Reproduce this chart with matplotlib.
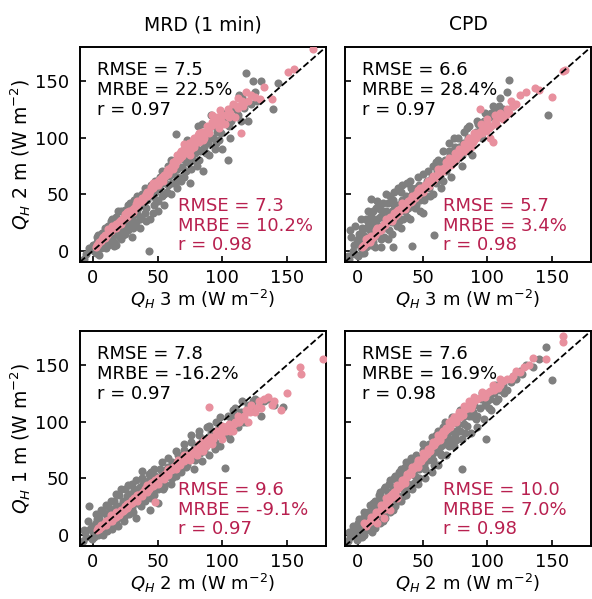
import numpy as np
import matplotlib
matplotlib.use("Agg")
import matplotlib.pyplot as plt

plt.rcParams['font.family'] = ['DejaVu Sans']
plt.rcParams['mathtext.fontset'] = 'dejavusans'
plt.rcParams['font.size'] = 13

col_titles = ["MRD (1 min)", "CPD"]
row_xlabels = [r"$Q_H$ 3 m (W m$^{-2}$)", r"$Q_H$ 2 m (W m$^{-2}$)"]
row_ylabels = [r"$Q_H$ 2 m (W m$^{-2}$)", r"$Q_H$ 1 m (W m$^{-2}$)"]
ticks = [0, 50, 100, 150]

# top-left: MRD, 3 m (x) vs 2 m (y)
mrd_a_grey = np.array([
    (-7, -7), (-5, -3), (-3, 2), (0, 5), (2, -2), (3, 8), (5, 3), (6, 12), (8, 6), (10, 15), (10, 2),
    (12, 22), (14, 9), (15, 28), (16, 14), (18, 5), (18, 30), (20, 18), (22, 10), (22, 35), (24, 25),
    (25, 15), (27, 40), (28, 20), (30, 30), (30, 12), (32, 45), (33, 25), (35, 38), (36, 20), (38, 50),
    (40, 33), (43, 0), (42, 45), (44, 28), (45, 58), (47, 40), (48, 52), (50, 35), (52, 65), (53, 48),
    (55, 40), (56, 60), (58, 75), (60, 50), (62, 68), (64, 103), (65, 55), (66, 80), (68, 62), (70, 85),
    (72, 70), (74, 90), (75, 60), (78, 95), (80, 75), (81, 110), (83, 88), (85, 70), (88, 100), (90, 85),
    (92, 110), (95, 95), (98, 118), (100, 90), (104, 80), (105, 110), (108, 128), (112, 120), (115, 135),
    (118, 157), (120, 115), (125, 140), (130, 150), (139, 125), (143, 148),
    (1, 0), (3, 12), (4, 4), (6, 2), (7, 16), (9, 9), (11, 18), (12, 5), (13, 14), (15, 20), (16, 8),
    (17, 24), (19, 15), (20, 27), (21, 12), (23, 20), (24, 33), (26, 22), (27, 30), (29, 26), (31, 38),
    (32, 22), (34, 32), (36, 44), (37, 30), (39, 42), (41, 38), (43, 52), (46, 48), (49, 45), (51, 56),
    (54, 62), (57, 52), (59, 66), (61, 60), (63, 74), (66, 65), (69, 74), (71, 80), (73, 78), (76, 72),
    (79, 86), (82, 80), (86, 92), (89, 95), (93, 100), (96, 105), (99, 104), (102, 118), (106, 100),
    (110, 125), (114, 115), (122, 130), (127, 132),
    (2, 6), (4, 14), (5, -4), (7, 3), (9, 20), (11, 7), (14, 26), (16, 4), (19, 35), (21, 22), (23, 14),
    (25, 36), (27, 18), (29, 42), (31, 20), (34, 48), (36, 28), (38, 40), (40, 55), (41, 26), (44, 50),
    (46, 33), (48, 62), (50, 44), (53, 70), (55, 50), (58, 58), (60, 80), (63, 60), (65, 72), (68, 85),
    (70, 65), (73, 98), (77, 80), (80, 90), (84, 112), (87, 86), (91, 120), (94, 90), (97, 98),
    (103, 122), (107, 115), (113, 138), (117, 126), (124, 150)])
mrd_a_pink = np.array([
    (2, 3), (4, 6), (5, 8), (7, 10), (8, 12), (10, 13), (12, 16), (13, 18), (15, 19), (17, 22), (18, 20),
    (20, 25), (22, 27), (24, 28), (25, 32), (27, 31), (28, 35), (30, 36), (32, 38), (34, 40), (35, 43),
    (37, 44), (38, 47), (40, 48), (42, 52), (44, 53), (45, 56), (47, 57), (48, 60), (50, 62), (52, 63),
    (55, 67), (57, 70), (58, 72), (60, 74), (62, 78), (64, 80), (65, 85), (67, 82), (68, 88), (70, 90),
    (72, 88), (74, 95), (75, 85), (77, 98), (78, 92), (80, 100), (82, 96), (84, 105), (85, 98), (88, 110),
    (90, 104), (92, 120), (95, 115), (97, 108), (100, 120), (102, 112), (104, 125), (108, 130), (110, 118),
    (112, 135), (114, 104), (116, 128), (118, 140), (120, 132), (129, 134), (138, 134), (132, 145),
    (151, 158), (155, 161), (170, 178),
    (3, 5), (6, 9), (9, 11), (11, 14), (14, 17), (16, 21), (19, 23), (21, 26), (23, 29), (26, 30),
    (29, 34), (31, 37), (33, 41), (36, 44), (39, 46), (41, 50), (43, 50), (46, 55), (49, 58), (51, 60),
    (53, 65), (56, 66), (59, 70), (61, 75), (63, 76), (66, 80), (69, 84), (71, 86), (73, 92), (76, 90),
    (79, 95), (81, 102), (83, 98), (86, 104), (89, 106), (91, 110), (94, 112), (96, 118), (99, 115),
    (103, 120), (106, 122), (111, 128), (115, 132), (122, 138), (125, 136),
    (9, 14), (12, 19), (15, 22), (18, 24), (22, 24), (26, 34), (31, 34), (34, 44), (38, 44), (42, 48),
    (46, 60), (50, 58), (54, 62), (58, 68), (62, 72), (67, 86), (70, 94), (74, 88), (78, 100), (82, 104),
    (86, 100), (92, 114), (98, 124), (105, 118), (112, 126)])

# top-right: CPD, 3 m (x) vs 2 m (y)
cpd_a_grey = np.array([
    (-7, -7), (-8, -5), (-6, 18), (-3, 5), (-2, -3), (0, 10), (2, 2), (3, 20), (5, -2), (5, 12), (6, 28),
    (8, 5), (9, 18), (10, 46), (10, 32), (12, 8), (13, 25), (14, 38), (15, 14), (17, 30), (18, 3), (19, 42),
    (20, 20), (22, 35), (23, 10), (25, 48), (26, 25), (27, 3), (28, 40), (30, 30), (31, 55), (33, 20),
    (34, 45), (36, 35), (38, 60), (40, 28), (42, 4), (42, 50), (44, 38), (46, 65), (48, 45), (50, 33),
    (52, 58), (54, 70), (56, 48), (58, 75), (59, 14), (60, 60), (62, 80), (64, 55), (66, 88), (68, 70),
    (70, 95), (72, 65), (74, 100), (76, 80), (78, 92), (80, 75), (82, 105), (84, 90), (86, 110), (88, 85),
    (90, 100), (92, 115), (95, 105), (98, 122), (100, 110), (104, 128), (108, 118), (110, 135), (117, 151),
    (120, 128), (147, 120),
    (-4, 0), (-1, 8), (1, 15), (3, -2), (4, 6), (6, 20), (7, 12), (8, 25), (10, 5), (11, 22), (12, 35),
    (13, 15), (15, 28), (16, 40), (17, 18), (18, 10), (20, 32), (21, 25), (23, 42), (24, 18), (26, 35),
    (27, 45), (29, 30), (30, 22), (32, 40), (33, 52), (35, 28), (37, 48), (39, 38), (41, 55), (43, 45),
    (45, 40), (47, 58), (49, 52), (51, 45), (53, 62), (55, 55), (57, 65), (61, 70), (63, 65), (65, 75),
    (67, 80), (69, 78), (71, 85), (73, 88), (75, 92), (79, 85), (81, 95), (85, 100), (87, 95), (91, 105),
    (94, 110), (96, 100), (102, 118), (106, 125), (112, 125), (115, 140),
    (-5, 12), (-2, 22), (0, -5), (2, 28), (4, 14), (6, 3), (8, 35), (9, 12), (11, 28), (13, 3), (15, 44),
    (16, 22), (18, 36), (20, 12), (22, 50), (24, 30), (26, 15), (28, 52), (30, 40), (32, 26), (34, 58),
    (36, 44), (38, 30), (40, 62), (42, 40), (45, 55), (48, 35), (50, 68), (52, 48), (55, 62), (58, 50),
    (60, 78), (63, 70), (66, 62), (70, 88), (73, 78), (77, 100), (80, 85), (84, 108), (88, 95), (93, 112),
    (97, 115), (103, 122), (109, 128)])
cpd_a_pink = np.array([
    (3, 3), (5, 5), (7, 10), (9, 8), (10, 13), (12, 12), (14, 16), (15, 20), (17, 18), (19, 22), (20, 24),
    (22, 25), (24, 27), (25, 30), (27, 29), (28, 33), (30, 35), (32, 34), (33, 38), (35, 40), (36, 37),
    (38, 42), (40, 45), (42, 44), (43, 48), (45, 50), (47, 52), (48, 55), (50, 54), (52, 58), (54, 60),
    (55, 57), (57, 63), (58, 66), (60, 65), (62, 68), (64, 72), (65, 70), (67, 74), (68, 78), (70, 80),
    (72, 76), (74, 82), (75, 86), (77, 84), (78, 90), (80, 88), (82, 94), (84, 92), (86, 96), (88, 100),
    (90, 98), (92, 104), (94, 125), (95, 106), (98, 110), (100, 112), (102, 100), (104, 96), (106, 114),
    (108, 118), (110, 122), (112, 116), (115, 125), (118, 132), (120, 128), (125, 138), (130, 140),
    (137, 144), (140, 142), (150, 136), (158, 159), (160, 160),
    (4, 4), (6, 7), (8, 11), (11, 11), (13, 14), (16, 17), (18, 21), (21, 23), (23, 26), (26, 28),
    (29, 31), (31, 36), (34, 37), (37, 41), (39, 44), (41, 43), (44, 47), (46, 49), (49, 52), (51, 56),
    (53, 57), (56, 61), (59, 63), (61, 67), (63, 69), (66, 72), (69, 75), (71, 78), (73, 80), (76, 82),
    (79, 86), (81, 90), (83, 88), (85, 98), (87, 92), (89, 96), (91, 100), (93, 102), (96, 104),
    (99, 106), (101, 108), (103, 110), (107, 112), (111, 118), (114, 120), (117, 122), (122, 130),
    (6, 10), (10, 10), (14, 18), (18, 18), (22, 28), (26, 26), (30, 32), (34, 42), (38, 40), (42, 48),
    (46, 54), (50, 52), (54, 62), (58, 62), (62, 72), (66, 70), (70, 82), (74, 78), (78, 86), (82, 90),
    (86, 100), (90, 104), (95, 112), (100, 116), (106, 120)])

# bottom-left: MRD, 2 m (x) vs 1 m (y)
mrd_b_grey = np.array([
    (-8, -6), (-5, -2), (-3, 25), (-2, 5), (0, 2), (2, 10), (4, 0), (5, 15), (7, 6), (8, 20), (10, 10),
    (11, 3), (12, 25), (14, 14), (15, 5), (16, 30), (18, 18), (19, 8), (20, 35), (22, 22), (24, 12),
    (25, 40), (26, 28), (28, 18), (30, 45), (31, 32), (33, 15), (35, 38), (37, 25), (38, 50), (40, 30),
    (42, 42), (44, 22), (45, 55), (47, 35), (49, 48), (50, 28), (52, 58), (54, 40), (56, 50), (58, 60),
    (60, 45), (62, 62), (64, 52), (66, 70), (68, 55), (70, 75), (72, 60), (74, 68), (76, 82), (78, 58),
    (80, 72), (82, 88), (84, 65), (86, 80), (88, 95), (90, 70), (92, 85), (95, 100), (98, 78), (100, 90),
    (102, 59), (104, 105), (106, 85), (108, 110), (112, 95), (115, 118), (118, 100), (122, 112),
    (125, 120), (130, 105), (135, 120), (140, 115), (147, 113),
    (-6, 2), (-1, 8), (1, -2), (3, 14), (6, 10), (9, 4), (10, 18), (12, 8), (13, 20), (15, 16), (17, 24),
    (18, 12), (20, 25), (21, 16), (23, 30), (24, 20), (26, 34), (27, 22), (29, 36), (30, 24), (32, 40),
    (34, 28), (36, 42), (38, 32), (39, 45), (41, 36), (43, 48), (46, 40), (48, 52), (51, 44), (53, 54),
    (55, 46), (57, 58), (59, 52), (61, 64), (63, 55), (65, 62), (67, 66), (69, 60), (71, 70), (73, 65),
    (75, 72), (77, 68), (79, 78), (81, 75), (83, 72), (85, 85), (87, 78), (89, 82), (91, 90), (94, 82),
    (97, 95), (99, 88), (103, 95), (107, 100), (110, 105), (114, 108), (120, 115), (127, 112), (132, 118),
    (-7, 4), (-4, 12), (-1, -4), (2, 18), (4, 6), (6, 22), (8, 0), (10, 26), (12, 14), (14, 30), (16, 10),
    (18, 36), (20, 20), (22, 40), (24, 16), (27, 44), (29, 30), (31, 20), (33, 48), (36, 30), (38, 56),
    (40, 36), (43, 54), (45, 32), (47, 58), (50, 40), (53, 64), (55, 42), (58, 68), (61, 50), (64, 74),
    (67, 56), (70, 80), (73, 62), (76, 88), (79, 66), (82, 92), (86, 74), (90, 96), (94, 76), (98, 104),
    (104, 88), (110, 112), (116, 100), (124, 118)])
mrd_b_pink = np.array([
    (3, 4), (5, 5), (7, 8), (9, 10), (10, 9), (12, 13), (14, 14), (15, 12), (17, 16), (19, 18), (20, 17),
    (22, 22), (24, 22), (25, 25), (27, 25), (28, 28), (30, 28), (32, 32), (34, 30), (35, 35), (37, 35),
    (38, 37), (40, 40), (42, 38), (44, 42), (45, 46), (47, 44), (48, 29), (48, 48), (50, 45), (52, 50),
    (54, 52), (55, 49), (57, 55), (58, 53), (60, 57), (62, 60), (64, 58), (65, 63), (67, 62), (68, 66),
    (70, 65), (72, 68), (74, 70), (75, 66), (77, 72), (78, 75), (80, 70), (82, 78), (84, 80), (85, 74),
    (88, 82), (90, 113), (90, 85), (92, 80), (95, 88), (98, 92), (100, 85), (102, 95), (105, 98),
    (108, 92), (110, 100), (112, 105), (115, 102), (118, 110), (120, 100), (122, 115), (125, 108),
    (128, 118), (130, 112), (135, 122), (140, 118), (145, 110), (150, 125), (160, 148), (161, 142),
    (178, 155),
    (4, 6), (6, 7), (8, 9), (11, 11), (13, 12), (16, 15), (18, 16), (21, 20), (23, 21), (26, 24),
    (29, 27), (31, 30), (33, 31), (36, 34), (39, 38), (41, 41), (43, 40), (46, 43), (49, 47), (51, 48),
    (53, 51), (56, 54), (59, 56), (61, 58), (63, 61), (66, 62), (69, 65), (71, 67), (73, 70), (76, 70),
    (79, 73), (81, 76), (83, 78), (86, 80), (87, 78), (89, 84), (91, 86), (93, 85), (96, 90), (99, 88),
    (103, 92), (106, 96), (109, 98), (113, 100), (117, 105), (121, 108), (127, 112), (132, 120),
    (138, 115),
    (6, 9), (10, 12), (14, 17), (18, 20), (22, 20), (26, 27), (30, 31), (34, 35), (38, 34), (42, 44),
    (46, 47), (50, 50), (54, 50), (58, 58), (62, 58), (66, 66), (70, 70), (74, 68), (78, 72), (82, 80),
    (86, 84), (90, 82), (95, 92), (100, 96), (106, 92), (112, 100)])

# bottom-right: CPD, 2 m (x) vs 1 m (y)
cpd_b_grey = np.array([
    (-8, -6), (-5, 0), (-3, 5), (0, -3), (0, 10), (2, 3), (4, 15), (5, 0), (6, 8), (8, 20), (9, 4),
    (10, 12), (12, 28), (13, 6), (14, 18), (16, 35), (17, 10), (18, 25), (20, 40), (21, 15), (22, 30),
    (24, 45), (25, 20), (26, 36), (28, 50), (29, 25), (30, 42), (32, 55), (33, 30), (34, 48), (36, 60),
    (37, 35), (38, 52), (40, 65), (42, 40), (43, 58), (45, 70), (46, 45), (48, 62), (50, 75), (52, 50),
    (53, 68), (55, 80), (57, 55), (58, 72), (60, 88), (62, 62), (64, 78), (66, 95), (68, 70), (70, 85),
    (72, 100), (74, 78), (76, 92), (78, 105), (80, 58), (80, 85), (82, 98), (85, 110), (87, 90),
    (88, 105), (90, 115), (92, 95), (95, 120), (97, 102), (99, 85), (100, 118), (103, 110), (105, 125),
    (108, 120), (112, 132), (115, 128), (120, 140), (125, 145), (145, 166), (150, 137),
    (-6, -2), (-2, 2), (1, 6), (3, 10), (5, 14), (7, 5), (8, 14), (10, 18), (11, 8), (12, 20), (14, 24),
    (15, 12), (16, 26), (18, 30), (19, 18), (20, 32), (22, 22), (23, 38), (24, 34), (26, 28), (27, 42),
    (28, 36), (30, 48), (31, 34), (32, 44), (34, 52), (35, 40), (36, 50), (38, 58), (39, 45), (41, 56),
    (42, 62), (44, 52), (46, 64), (47, 58), (49, 68), (51, 62), (52, 72), (54, 66), (56, 76), (58, 66),
    (60, 75), (61, 82), (63, 72), (65, 85), (67, 80), (69, 88), (71, 82), (73, 92), (75, 88), (77, 98),
    (79, 92), (81, 104), (84, 96), (86, 105), (89, 108), (91, 102), (94, 112), (98, 115), (102, 120),
    (107, 118), (110, 128), (118, 135), (122, 138), (130, 150), (135, 148), (140, 155),
    (-7, 2), (-4, 8), (-1, -5), (1, 14), (3, -2), (5, 20), (7, 10), (9, 26), (11, 2), (13, 30), (15, 16),
    (17, 38), (19, 12), (21, 42), (23, 26), (25, 48), (27, 22), (29, 52), (31, 30), (33, 58), (35, 34),
    (37, 64), (39, 40), (41, 68), (43, 46), (45, 60), (47, 50), (50, 80), (52, 58), (55, 70), (57, 86),
    (59, 62), (62, 92), (64, 70), (67, 100), (70, 78), (73, 104), (76, 84), (79, 110), (83, 90),
    (87, 115), (92, 105), (96, 125), (101, 112), (106, 132), (113, 125), (127, 142)])
cpd_b_pink = np.array([
    (5, 10), (8, 10), (10, 12), (12, 15), (14, 18), (15, 10), (16, 20), (18, 22), (20, 15), (20, 26),
    (21, 23), (22, 28), (24, 30), (25, 22), (25, 34), (27, 35), (28, 38), (30, 32), (30, 40), (32, 42),
    (34, 45), (35, 48), (37, 50), (38, 52), (40, 55), (42, 57), (44, 60), (45, 62), (47, 64), (48, 66),
    (50, 68), (52, 70), (54, 73), (55, 76), (57, 78), (58, 80), (60, 82), (62, 85), (64, 87), (65, 90),
    (67, 92), (68, 94), (70, 96), (72, 98), (74, 100), (75, 104), (78, 106), (80, 108), (82, 110),
    (85, 112), (88, 115), (90, 118), (95, 122), (100, 125), (105, 128), (110, 132), (115, 138),
    (120, 140), (125, 144), (135, 156), (145, 155), (158, 170), (158, 176),
    (6, 8), (9, 12), (11, 14), (13, 16), (15, 19), (17, 21), (19, 24), (21, 27), (23, 29), (26, 33),
    (29, 37), (31, 41), (33, 44), (36, 46), (39, 53), (41, 54), (43, 59), (46, 60), (49, 65), (51, 69),
    (53, 71), (56, 74), (59, 79), (61, 84), (63, 84), (66, 88), (69, 93), (71, 95), (73, 101), (76, 100),
    (79, 104), (81, 106), (84, 112), (87, 112), (92, 120), (98, 122), (102, 127), (108, 130), (112, 136),
    (118, 138), (122, 145), (128, 148), (132, 150),
    (10, 16), (14, 20), (18, 26), (22, 32), (26, 36), (30, 44), (34, 48), (38, 54), (42, 60), (46, 66),
    (50, 72), (54, 76), (58, 82), (62, 88), (66, 92), (70, 100), (74, 104), (78, 108), (82, 114),
    (86, 118), (90, 122), (96, 126), (104, 132), (110, 138)])

panels = [
    [(mrd_a_grey, mrd_a_pink, ("7.5", "22.5%", "0.97"), ("7.3", "10.2%", "0.98")),
     (cpd_a_grey, cpd_a_pink, ("6.6", "28.4%", "0.97"), ("5.7", "3.4%", "0.98"))],
    [(mrd_b_grey, mrd_b_pink, ("7.8", "-16.2%", "0.97"), ("9.6", "-9.1%", "0.97")),
     (cpd_b_grey, cpd_b_pink, ("7.6", "16.9%", "0.98"), ("10.0", "7.0%", "0.98"))],
]

grey = '#7f7f7f'
pink = '#e8909e'
crimson = '#b8204f'

fig = plt.figure(figsize=(5.92, 5.99), dpi=100)
W, H = 592, 599
lefts = [80, 345]
tops = [47, 331]
aw, ah = 246, 215

for r in range(2):
    for c in range(2):
        ax = fig.add_axes([lefts[c] / W, 1 - (tops[r] + ah) / H, aw / W, ah / H])
        g, p, st_g, st_p = panels[r][c]
        ax.scatter(g[:, 0], g[:, 1], s=34, color=grey, linewidths=0, zorder=2)
        ax.scatter(p[:, 0], p[:, 1], s=34, color=pink, linewidths=0, zorder=3)
        ax.plot([-10, 180], [-10, 180], 'k--', lw=1.3, zorder=4)
        ax.set_xlim(-10, 180)
        ax.set_ylim(-10, 180)
        ax.set_xticks(ticks)
        ax.set_yticks(ticks)
        ax.tick_params(direction='in', length=4, width=1.2, labelsize=13)
        ax.tick_params(axis='x', pad=5)
        ax.tick_params(axis='y', pad=8)
        for sp in ax.spines.values():
            sp.set_linewidth(1.4)
        if c == 1:
            ax.set_yticklabels([])
        else:
            ax.set_ylabel(row_ylabels[r], fontsize=13.5, labelpad=1)
        ax.set_xlabel(row_xlabels[r], fontsize=13, labelpad=1)
        if r == 0:
            ax.set_title(col_titles[c], fontsize=13.5, pad=12)
        ax.text(0.07, 0.935, "RMSE = %s\nMRBE = %s\nr = %s" % st_g, transform=ax.transAxes,
                ha='left', va='top', fontsize=13, color='black', linespacing=1.13, zorder=5)
        ax.text(0.40, 0.035, "RMSE = %s\nMRBE = %s\nr = %s" % st_p, transform=ax.transAxes,
                ha='left', va='bottom', fontsize=13, color=crimson, linespacing=1.13, zorder=5)

fig.savefig("out.png", dpi=100)
